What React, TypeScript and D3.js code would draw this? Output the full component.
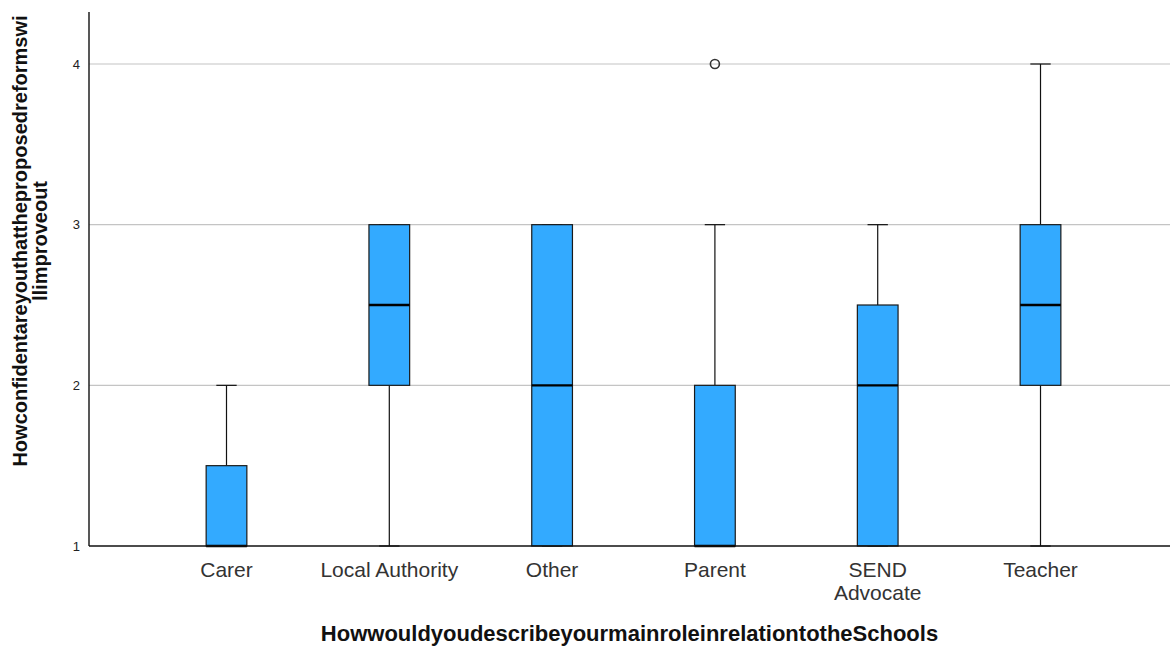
import { scaleLinear, scalePoint } from "d3";

const categories = ["Carer", "Local Authority", "Other", "Parent", "SEND Advocate", "Teacher"];
const tickLabels = [["Carer"], ["Local Authority"], ["Other"], ["Parent"], ["SEND", "Advocate"], ["Teacher"]];
const mins = [1, 1, 1, 1, 1, 1];
const q1s = [1, 2, 1, 1, 1, 2];
const medians = [1, 2.5, 2, 1, 2, 2.5];
const q3s = [1.5, 3, 3, 2, 2.5, 3];
const maxs = [2, 3, 3, 3, 3, 4];
const outliers: [string, number][] = [["Parent", 4]];
const yTicks = [1, 2, 3, 4];
const gridValues = [2, 3, 4];

const xTitle = "HowwouldyoudescribeyourmainroleinrelationtotheSchools";
const yTitleLines = ["Howconfidentareyouthattheproposedreformswi", "llimproveout"];

const width = 1171;
const height = 647;
const plotLeft = 89;
const plotRight = 1170;
const plotTop = 12;
const plotBottom = 546;
const font = "'Liberation Sans', Arial, sans-serif";
const boxFill = "#33aaff";

function App() {
  const x = scalePoint<string>()
    .domain(categories)
    .range([plotLeft, plotRight])
    .padding(0.82)
    .align(0.515);
  const y = scaleLinear().domain([1, 4]).range([plotBottom, 64]);
  const boxWidth = x.step() * 0.25;
  const capWidth = boxWidth / 2;

  return (
    <>
      <style>{`body{margin:0;}`}</style>
      <svg width={width} height={height} style={{ display: "block", background: "#fff" }}>
        {gridValues.map((v) => (
          <line key={v} x1={plotLeft} x2={plotRight} y1={y(v)} y2={y(v)} stroke="#c4c4c4" strokeWidth={1.2} />
        ))}
        {yTicks.map((v) => (
          <text
            key={v}
            x={plotLeft - 9}
            y={y(v)}
            textAnchor="end"
            dominantBaseline="central"
            fontFamily={font}
            fontSize={13}
            fill="#222"
          >
            {v}
          </text>
        ))}
        {categories.map((c, i) => {
          const cx = x(c) ?? 0;
          return (
            <g key={c}>
              <line x1={cx} x2={cx} y1={y(maxs[i])} y2={y(q3s[i])} stroke="#111" strokeWidth={1.2} />
              <line x1={cx} x2={cx} y1={y(q1s[i])} y2={y(mins[i])} stroke="#111" strokeWidth={1.2} />
              <line x1={cx - capWidth / 2} x2={cx + capWidth / 2} y1={y(maxs[i])} y2={y(maxs[i])} stroke="#111" strokeWidth={1.2} />
              <line x1={cx - capWidth / 2} x2={cx + capWidth / 2} y1={y(mins[i])} y2={y(mins[i])} stroke="#111" strokeWidth={1.2} />
              <rect
                x={cx - boxWidth / 2}
                y={y(q3s[i])}
                width={boxWidth}
                height={y(q1s[i]) - y(q3s[i])}
                fill={boxFill}
                stroke="#1a1a1a"
                strokeWidth={1.2}
              />
              <line
                x1={cx - boxWidth / 2}
                x2={cx + boxWidth / 2}
                y1={y(medians[i])}
                y2={y(medians[i])}
                stroke="#000"
                strokeWidth={2.4}
              />
              <text textAnchor="middle" fontFamily={font} fontSize={21} fill="#333">
                {tickLabels[i].map((t, j) => (
                  <tspan key={j} x={cx} y={577 + j * 23}>
                    {t}
                  </tspan>
                ))}
              </text>
            </g>
          );
        })}
        {outliers.map(([c, v], i) => (
          <circle key={i} cx={x(c) ?? 0} cy={y(v)} r={4.5} fill="none" stroke="#333" strokeWidth={1.6} />
        ))}
        <line x1={plotLeft} x2={plotLeft} y1={plotTop} y2={plotBottom} stroke="#111" strokeWidth={1.4} />
        <line x1={plotLeft} x2={plotRight} y1={plotBottom} y2={plotBottom} stroke="#111" strokeWidth={1.4} />
        <text
          x={(plotLeft + plotRight) / 2}
          y={641}
          textAnchor="middle"
          fontFamily={font}
          fontSize={22}
          fontWeight="bold"
          fill="#111"
        >
          {xTitle}
        </text>
        <text
          transform="translate(0,241) rotate(-90)"
          textAnchor="middle"
          fontFamily={font}
          fontSize={20}
          fontWeight="bold"
          fill="#111"
        >
          {yTitleLines.map((t, j) => (
            <tspan key={j} x={0} y={27 + j * 20}>
              {t}
            </tspan>
          ))}
        </text>
      </svg>
    </>
  );
}

export default App;
